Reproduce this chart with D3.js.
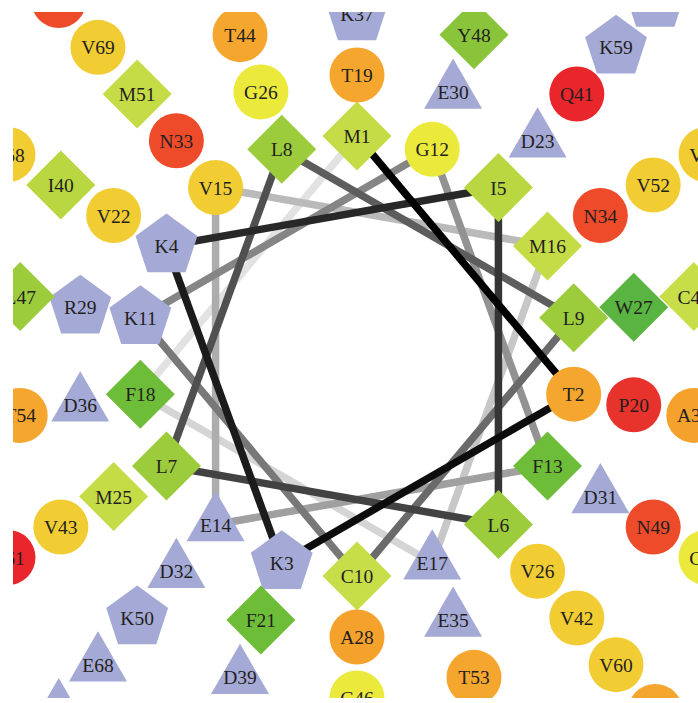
<!DOCTYPE html>
<html lang="en">
<head>
<meta charset="utf-8">
<title>Helical wheel</title>
<script src="https://d3js.org/d3.v7.min.js"></script>
<style>
    body { margin: 0; background: #fff; }
    text {
        font-family: "Liberation Serif", "Times New Roman", serif;
        font-size: 19.5px;
        fill: #231f20;
    }
</style>
</head>
<body>
<script>

// Width and Height
var w = 698;
var h = 703;
var cx = 357, cy = 356;

// Residue number on the wheel and the label printed on it
var positions = [1, 2, 3, 4, 5, 6, 7, 8, 9, 10, 11, 12, 13, 14, 15, 16, 17, 18,
    19, 20, 21, 22, 23, 24, 25, 26, 27, 28, 29, 30, 31, 32, 33, 34, 35, 36,
    37, 38, 39, 40, 41, 42, 43, 44, 45, 46, 47, 48, 49, 50, 51, 52, 53, 54,
    58, 59, 60, 61, 67, 68, 69, 70, 77, 78, 86, 87];
var labels = ["M1", "T2", "K3", "K4", "I5", "L6", "L7", "L8", "L9", "C10", "K11", "G12", "F13", "E14", "V15", "M16", "E17", "F18",
    "T19", "P20", "F21", "V22", "D23", "V26", "M25", "G26", "W27", "A28", "R29", "E30", "D31", "D32", "N33", "N34", "E35", "D36",
    "K37", "A38", "D39", "I40", "Q41", "V42", "V43", "T44", "C45", "G46", "L47", "Y48", "N49", "K50", "M51", "V52", "T53", "T54",
    "V58", "K59", "V60", "Q61", "G67", "E68", "V69", "V70", "K77", "T78", "E86", "N87"];

// Amino acids: colour and shape
var aaLetters = ["K", "R", "D", "E", "Q", "P", "N", "T", "A", "V", "G", "M", "C", "I", "L", "Y", "F", "W"];
var aaColors = ["#a4a9d5", "#a4a9d5", "#a4a9d5", "#a4a9d5", "#e8262b", "#e8322c", "#ee4b2a", "#f5a62e", "#f5a22d",
    "#f1cd33", "#ebe93c", "#c6dc46", "#c8de48", "#b8d740", "#9ccc3c", "#8ac43b", "#6ebd39", "#5ab442"];
var aaShapes = ["pentagon", "pentagon", "triangle", "triangle", "circle", "circle", "circle", "circle", "circle",
    "circle", "circle", "diamond", "diamond", "diamond", "diamond", "diamond", "diamond", "diamond"];

var color = d3.scaleOrdinal().domain(aaLetters).range(aaColors);
var shapeOf = d3.scaleOrdinal().domain(aaLetters).range(aaShapes);

// one ring per 18 residues
var radius = d3.scaleLinear().domain([0, 4]).range([220, 464]);
var lineColor = d3.scaleLinear().domain([1, 18]).range(["#000000", "#e2e2e2"]);

function point(n) {
    var r = radius(Math.floor((n - 1) / 18));
    var a = ((n - 1) * 100 % 360) * Math.PI / 180;
    return [cx + r * Math.sin(a), cy - r * Math.cos(a)];
}

function polygon(k, R) {
    var pts = [];
    for (var i = 0; i < k; i++) {
        var a = -Math.PI / 2 + i * 2 * Math.PI / k;
        pts.push([R * Math.cos(a), R * Math.sin(a)]);
    }
    return "M" + pts.join("L") + "Z";
}

var shapePath = {
    triangle: polygon(3, 33.5),
    pentagon: polygon(5, 32.5),
    diamond: polygon(4, 34.5)
};

var svg = d3.select("body")
    .append("svg")
    .attr("width", w)
    .attr("height", h);

svg.append("clipPath")
    .attr("id", "clip")
    .append("rect")
    .attr("x", 13).attr("y", 12)
    .attr("width", w - 13).attr("height", 686);

var g = svg.append("g").attr("clip-path", "url(#clip)");

// Lines between consecutive residues, first one on top
var links = d3.range(18, 0, -1);

g.selectAll("line.link")
    .data(links)
    .enter()
    .append("line")
    .attr("class", "link")
    .attr("stroke-width", 7.5)
    .attr("stroke", function(d) { return lineColor(d); })
    .attr("x1", function(d) { return point(d)[0]; })
    .attr("y1", function(d) { return point(d)[1]; })
    .attr("x2", function(d) { return point(d % 18 + 1)[0]; })
    .attr("y2", function(d) { return point(d % 18 + 1)[1]; });

// Residues
var residues = g.selectAll("g.res")
    .data(positions.map(function(n, i) { return { n: n, label: labels[i], aa: labels[i][0] }; }))
    .enter()
    .append("g")
    .attr("class", "res")
    .attr("transform", function(d) { return "translate(" + point(d.n) + ")"; });

residues.each(function(d) {
    var s = shapeOf(d.aa);
    var sel = d3.select(this);
    if (s === "circle") {
        sel.append("circle").attr("r", 27.5).attr("fill", color(d.aa));
    } else {
        sel.append("path").attr("d", shapePath[s]).attr("fill", color(d.aa));
    }
});

residues.append("text")
    .attr("text-anchor", "middle")
    .attr("dy", "0.36em")
    .text(function(d) { return d.label; });

</script>
</body>
</html>
